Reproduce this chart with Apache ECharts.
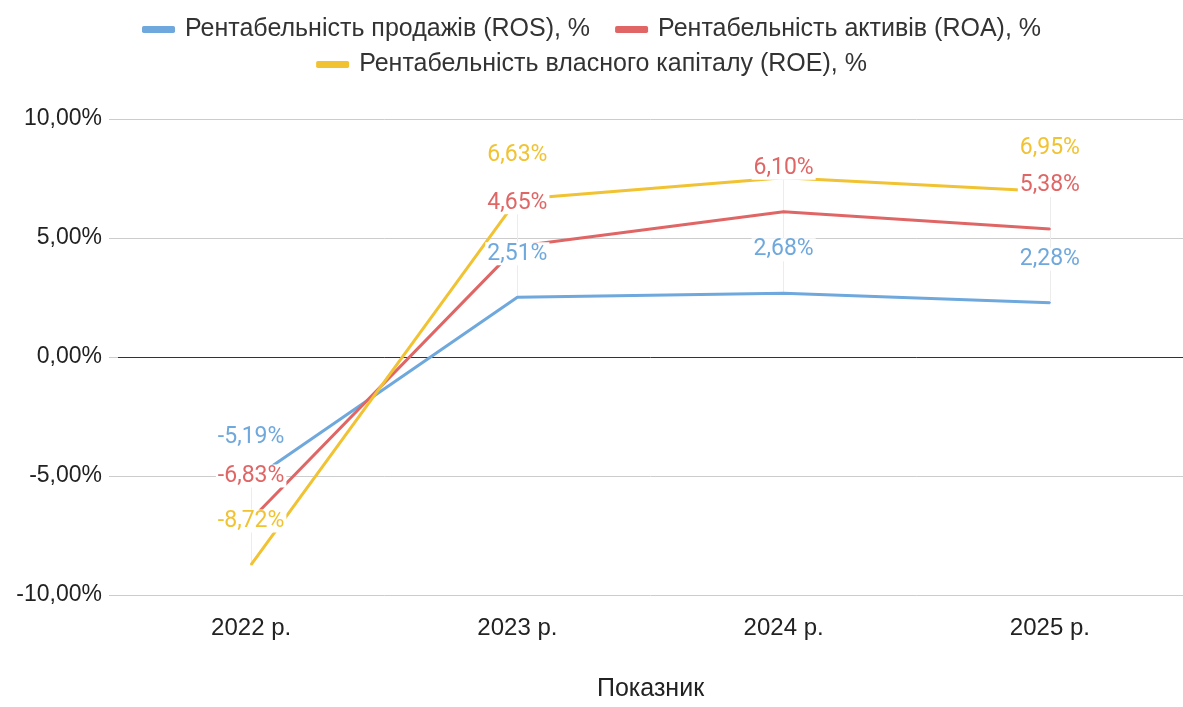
<!DOCTYPE html>
<html>
<head>
<meta charset="utf-8">
<script src="https://cdn.jsdelivr.net/npm/echarts@6/dist/echarts.min.js"></script>
<style>
  html, body { margin: 0; padding: 0; background: #fff; }
  #chart { width: 1183px; height: 707px; }
</style>
</head>
<body>
<div id="chart"></div>
<script>
// Categories and series values (percent)
const categories = ['2022 р.', '2023 р.', '2024 р.', '2025 р.'];
const rosValues = [-5.19, 2.51, 2.68, 2.28];
const roaValues = [-6.83, 4.65, 6.10, 5.38];
const roeValues = [-8.72, 6.63, 7.53, 6.95];
// Points whose value label is left off (per series, by category index)
const roeHiddenLabels = [2];

const seriesNames = [
  'Рентабельність продажів (ROS), %',
  'Рентабельність активів (ROA), %',
  'Рентабельність власного капіталу (ROE), %'
];
const colors = ['#6fa8dc', '#e06666', '#f1c232'];

const fmt = v => v.toFixed(2).replace('.', ',') + '%';

function makeData(values, hidden) {
  return values.map((v, i) => hidden && hidden.includes(i)
    ? { value: v, label: { show: false } }
    : v);
}

function makeSeries(name, values, color, hidden) {
  return {
    name: name,
    type: 'line',
    data: makeData(values, hidden),
    symbol: 'circle',
    symbolSize: 2,
    itemStyle: { color: color },
    lineStyle: { color: color, width: 3 },
    emphasis: { disabled: true },
    label: {
      show: true,
      position: 'top',
      distance: 31,
      formatter: p => fmt(p.value),
      color: color,
      fontFamily: 'Roboto',
      fontSize: 23,
      backgroundColor: '#ffffff',
      padding: [0, 2]
    },
    labelLayout: { hideOverlap: false }
  };
}

// Faint vertical guides at each category spanning the data range
const guideData = categories.map((c, i) => {
  const vals = [rosValues[i], roaValues[i], roeValues[i]];
  return [
    { coord: [c, Math.max(...vals)] },
    { coord: [c, Math.min(...vals)] }
  ];
});

const series = [
  makeSeries(seriesNames[0], rosValues, colors[0]),
  makeSeries(seriesNames[1], roaValues, colors[1]),
  makeSeries(seriesNames[2], roeValues, colors[2], roeHiddenLabels)
];
series[0].markLine = {
  silent: true,
  symbol: 'none',
  label: { show: false },
  lineStyle: { color: '#ececec', width: 1, type: 'solid' },
  data: guideData,
  z: 1
};

const chart = echarts.init(document.getElementById('chart'), null, { renderer: 'canvas' });

const legendText = {
  color: '#333', fontFamily: 'Liberation Sans', fontSize: 25, padding: [0, 0, 0, 5]
};
const legendBase = {
  left: 'center',
  icon: 'roundRect',
  itemWidth: 33,
  itemHeight: 7,
  itemGap: 25,
  textStyle: legendText,
  selectedMode: false
};

chart.setOption({
  animation: false,
  backgroundColor: '#ffffff',
  color: colors,
  legend: [
    Object.assign({}, legendBase, { data: [seriesNames[0], seriesNames[1]], top: 12 }),
    Object.assign({}, legendBase, { data: [seriesNames[2]], top: 47 })
  ],
  grid: { left: 118, right: -8, top: 119, bottom: 107, containLabel: false },
  xAxis: {
    type: 'category',
    data: categories,
    boundaryGap: true,
    axisLine: { show: false, onZero: false },
    axisTick: { show: false },
    axisLabel: { color: '#222', fontFamily: 'Liberation Sans', fontSize: 24, margin: 21 },
    name: 'Показник',
    nameLocation: 'middle',
    nameGap: 82,
    nameTextStyle: { color: '#222', fontFamily: 'Liberation Sans', fontSize: 25 }
  },
  yAxis: {
    type: 'value',
    min: -10,
    max: 10,
    interval: 5,
    axisLine: { show: false },
    axisTick: { show: true, length: 9, lineStyle: { color: '#cccccc' } },
    axisLabel: {
      color: '#222', fontFamily: 'Liberation Sans', fontSize: 23, margin: 16,
      formatter: v => v.toFixed(2).replace('.', ',') + '%'
    },
    splitLine: {
      show: true,
      lineStyle: { color: ['#cccccc', '#cccccc', '#333333', '#cccccc', '#cccccc'], width: 1 }
    }
  },
  series: series
});
</script>
</body>
</html>
